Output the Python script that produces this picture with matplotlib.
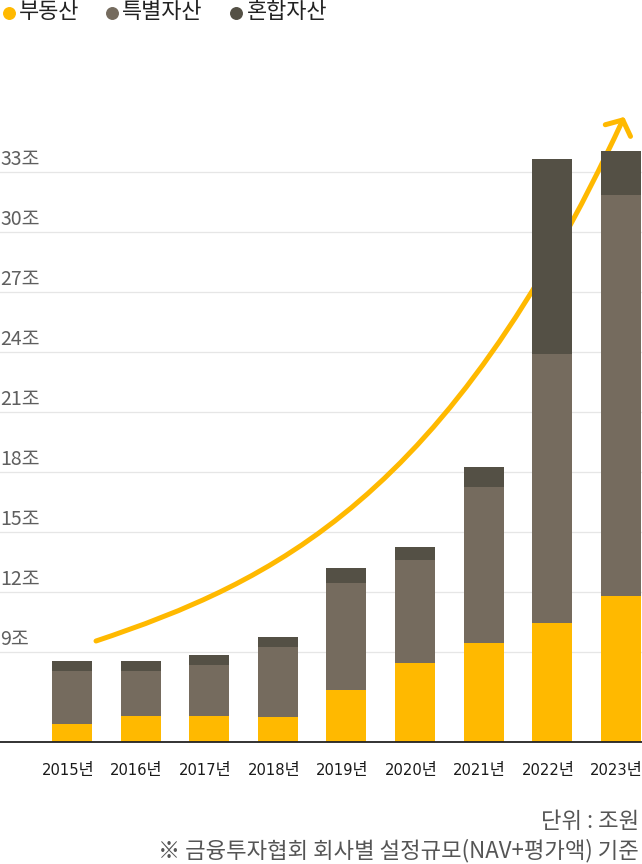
import matplotlib
matplotlib.use("Agg")
import matplotlib.pyplot as plt
import matplotlib.transforms as mtransforms
from matplotlib.lines import Line2D
from matplotlib.patches import FancyArrowPatch
from matplotlib.path import Path

KR = "Noto Sans CJK KR"

years = ["2015년", "2016년", "2017년", "2018년", "2019년", "2020년", "2021년", "2022년", "2023년"]
real_estate = [5.4, 5.8, 5.8, 5.75, 7.1, 8.45, 9.45, 10.45, 11.8]
special = [2.65, 2.25, 2.55, 3.5, 5.35, 5.15, 7.8, 13.45, 20.05]
mixed = [0.5, 0.5, 0.5, 0.5, 0.75, 0.65, 1.0, 9.75, 2.2]
series_names = ["부동산", "특별자산", "혼합자산"]
colors = ["#FFB900", "#756B5E", "#545045"]
y_ticks = [9, 12, 15, 18, 21, 24, 27, 30, 33]

fig = plt.figure(figsize=(6.42, 8.64), dpi=100)
ax = fig.add_axes([0, 1 - 742 / 864, 1, 642 / 864])

x = list(range(len(years)))
bottom2 = [a + b for a, b in zip(real_estate, special)]
ax.bar(x, real_estate, width=0.583, color=colors[0], zorder=3)
ax.bar(x, special, width=0.583, bottom=real_estate, color=colors[1], zorder=3)
ax.bar(x, mixed, width=0.583, bottom=bottom2, color=colors[2], zorder=3)

ax.set_xlim(-1.05, 8.31)
ax.set_ylim(4.5, 36.6)

ax.set_yticks(y_ticks)
ax.yaxis.grid(True, color="#e6e6e6", linewidth=0.9, zorder=0)
ax.tick_params(axis="y", length=0, labelleft=False)
for v in y_ticks:
    ax.text(0.0, v + 0.35, f"{v}조", transform=ax.get_yaxis_transform(),
            ha="left", va="baseline", fontsize=14, color="#5f5f5f", family=KR)

ax.set_xticks(x)
ax.set_xticklabels(years)
ax.tick_params(axis="x", length=0, pad=15)
shift = mtransforms.ScaledTranslation(-4 / 100, 0, fig.dpi_scale_trans)
for lab in ax.get_xticklabels():
    lab.set_family(["Liberation Sans Narrow", "DejaVu Sans", KR])
    lab.set_fontstretch("condensed")
    lab.set_fontsize(11.8)
    lab.set_color("#1a1a1a")
    lab.set_transform(lab.get_transform() + shift)

for side in ["top", "right", "left"]:
    ax.spines[side].set_visible(False)
ax.spines["bottom"].set_color("#222222")
ax.spines["bottom"].set_linewidth(1.3)
ax.spines["bottom"].set_zorder(4)

# trend arrow (decoration)
verts = [(0.35, 9.55), (2.91, 12.5), (5.47, 16.6), (8.05, 35.75)]
codes = [Path.MOVETO, Path.CURVE4, Path.CURVE4, Path.CURVE4]
arrow = FancyArrowPatch(path=Path(verts, codes), arrowstyle="->,head_length=8.4,head_width=10",
                        mutation_scale=1, color=colors[0], linewidth=3.6,
                        capstyle="round", joinstyle="round", zorder=2, clip_on=False)
ax.add_patch(arrow)

# legend
legend_x = [8.5 / 642, 111.5 / 642, 236 / 642]
text_x = [19 / 642, 122 / 642, 247 / 642]
ly = 1 - 12.5 / 864
for name, c, mx, tx in zip(series_names, colors, legend_x, text_x):
    fig.add_artist(Line2D([mx], [ly], marker="o", markersize=8.3, color=c,
                          linestyle="none", transform=fig.transFigure))
    fig.text(tx, ly, name, ha="left", va="center", fontsize=15.8, color="#222222", family=KR)

fig.text(0.995, 1 - 822 / 864, "단위 : 조원", ha="right", va="center",
         fontsize=16, color="#555555", family=KR)
fig.text(0.995, 1 - 851 / 864, "※ 금융투자협회 회사별 설정규모(NAV+평가액) 기준", ha="right", va="center",
         fontsize=16, color="#555555", family=KR)

fig.savefig("out.png", dpi=100)
